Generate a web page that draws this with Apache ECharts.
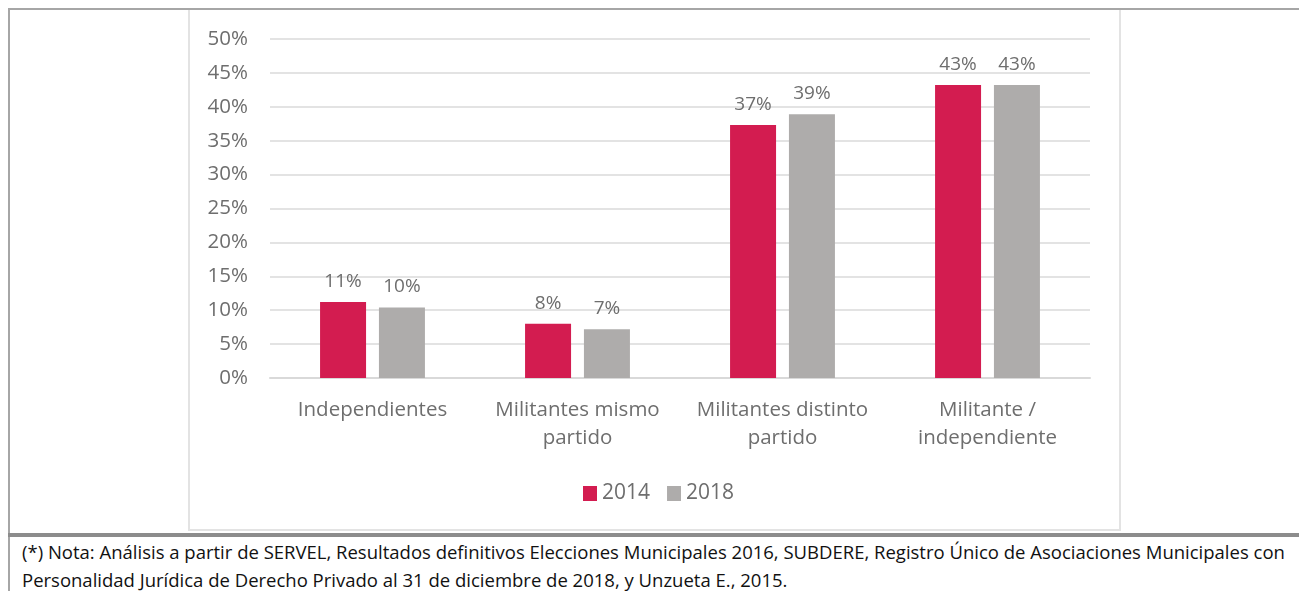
<!DOCTYPE html>
<html><head><meta charset="utf-8">
<script src="https://cdn.jsdelivr.net/npm/echarts@6/dist/echarts.min.js"></script>
<style>
html,body{margin:0;padding:0;background:#fff;width:1299px;height:591px;overflow:hidden;font-family:"Open Sans",sans-serif;}
#topline{position:absolute;left:8px;top:8px;width:1291px;height:2px;background:#a6a6a6;}
#leftline{position:absolute;left:8px;top:8px;width:2px;height:583px;background:#a6a6a6;}
#box{position:absolute;left:188px;top:10px;width:929px;height:519px;border:2px solid #e3e3e3;border-top:none;}
#chart{position:absolute;left:189px;top:10px;width:929px;height:520px;}
#thick{position:absolute;left:8px;top:533px;width:1291px;height:4px;background:#8c8c8c;}
#note{position:absolute;left:22px;top:538px;width:1277px;font-size:18.5px;line-height:28px;color:#111;white-space:nowrap;}
</style></head>
<body>
<div id="topline"></div><div id="leftline"></div>
<div id="box"></div>
<div id="chart"></div>
<div id="thick"></div>
<div id="note">(*) Nota: Análisis a partir de SERVEL, Resultados definitivos Elecciones Municipales 2016, SUBDERE, Registro Único de Asociaciones Municipales con<br>Personalidad Jurídica de Derecho Privado al 31 de diciembre de 2018, y Unzueta E., 2015.</div>
<script>
const categories = ["Independientes", "Militantes mismo\npartido", "Militantes distinto\npartido", "Militante /\nindependiente"];
const seriesNames = ["2014", "2018"];
const values2014 = [11.2, 8.0, 37.3, 43.2];
const values2018 = [10.4, 7.2, 38.9, 43.2];
const yTicks = [0, 5, 10, 15, 20, 25, 30, 35, 40, 45, 50];

const chart = echarts.init(document.getElementById('chart'), null, {renderer: 'canvas'});
const font = '"Open Sans", sans-serif';
const labelCfg = {
  show: true, position: 'top', distance: 11, color: '#6e6e6e', fontSize: 19, fontFamily: font,
  formatter: p => Math.round(p.value) + '%'
};
chart.setOption({
  animation: false,
  grid: {left: 81, right: 28, top: 29, bottom: 152, containLabel: false},
  legend: {
    data: seriesNames, top: 468, left: 389, itemWidth: 14, itemHeight: 15, itemGap: 17,
    icon: 'rect', textStyle: {color: '#6e6e6e', fontSize: 21, fontFamily: font}
  },
  xAxis: {
    type: 'category', data: categories,
    axisLine: {lineStyle: {color: '#d9d9d9', width: 2}}, axisTick: {show: false},
    axisLabel: {color: '#6e6e6e', fontSize: 20.5, fontFamily: font, lineHeight: 28, margin: 18, interval: 0}
  },
  yAxis: {
    type: 'value', min: yTicks[0], max: yTicks[yTicks.length - 1], interval: 5,
    axisLine: {show: false}, axisTick: {show: false},
    splitLine: {lineStyle: {color: '#e3e3e3', width: 2}},
    axisLabel: {color: '#6e6e6e', fontSize: 20.5, fontFamily: font, margin: 22, formatter: v => v + '%'}
  },
  series: [
    {name: seriesNames[0], type: 'bar', data: values2014, barWidth: 46, barGap: '28%',
     itemStyle: {color: '#d31c50'}, label: labelCfg},
    {name: seriesNames[1], type: 'bar', data: values2018, barWidth: 46,
     itemStyle: {color: '#aeacab'}, label: labelCfg}
  ]
});
</script>
</body></html>
